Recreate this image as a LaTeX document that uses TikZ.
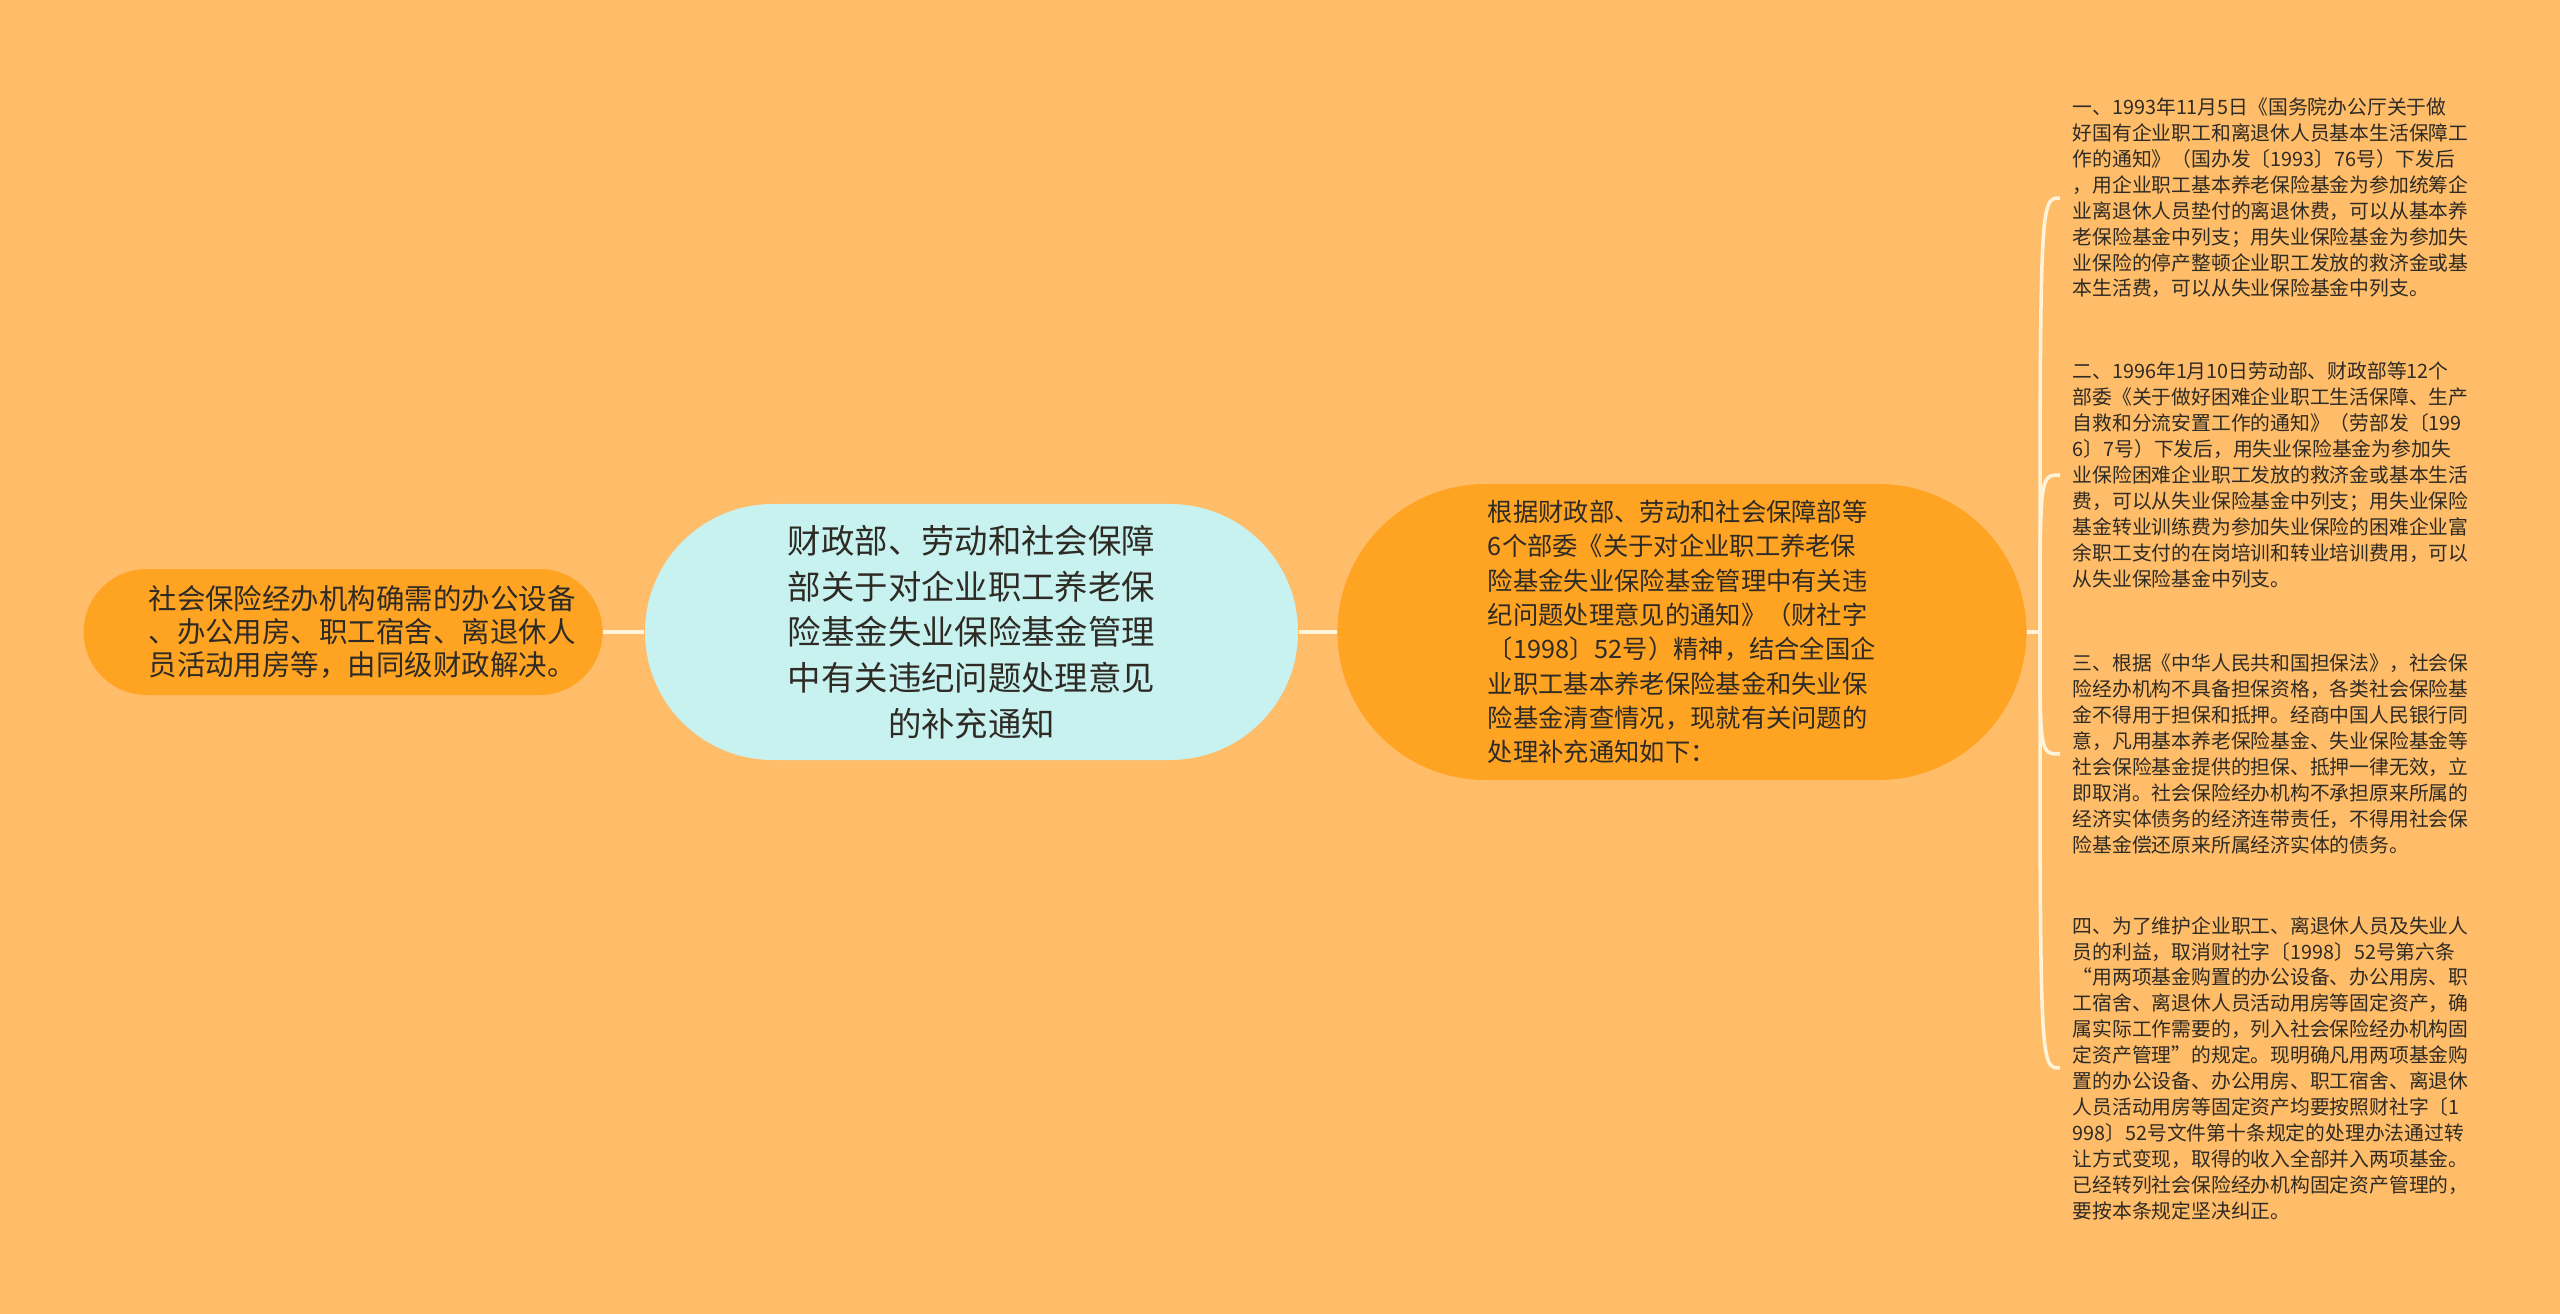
\documentclass[tikz,border=0pt]{standalone}
\usepackage{fontspec}
\setmainfont{Noto Sans CJK SC}
\usetikzlibrary{positioning}

\definecolor{fond}{HTML}{FFBD69}
\definecolor{branche}{HTML}{FFA323}
\definecolor{ciel}{HTML}{C8F2F0}
\definecolor{lien}{HTML}{FFF4DA}
\definecolor{encre}{HTML}{2E2A24}

\begin{document}
\begin{tikzpicture}[
  every node/.style={text=encre, inner sep=0pt},
  racine/.style={fill=ciel, rounded corners=1.28cm, minimum width=6.53cm,
    minimum height=2.56cm, align=center, font=\fontsize{9.5}{13}\selectfont},
  avis/.style={fill=branche, rounded corners=1.48cm, minimum width=6.89cm,
    minimum height=2.96cm, align=left, font=\fontsize{7.2}{9.75}\selectfont},
  feuille/.style={fill=branche, rounded corners=0.63cm, minimum width=5.19cm,
    minimum height=1.26cm},
  detail/.style={anchor=west, inner xsep=0.12cm, align=left,
    font=\fontsize{5.63}{7.37}\selectfont},
  trait/.style={draw=lien, line width=1pt}
]

\fill[fond] (0,0) rectangle (25.6,-13.14);

\node[racine] (titre) at (9.715,-6.32) {财政部、劳动和社会保障\\部关于对企业职工养老保\\险基金失业保险基金管理\\中有关违纪问题处理意见\\的补充通知};
\node[feuille, left=0.41cm of titre,
  label={[align=left, xshift=0.19cm, font=\fontsize{8.1}{9.5}\selectfont]center:社会保险经办机构确需的办公设备\\、办公用房、职工宿舍、离退休人\\员活动用房等，由同级财政解决。}] (locaux) {};
\node[avis, right=0.38cm of titre] (avis) {根据财政部、劳动和社会保障部等\\6个部委《关于对企业职工养老保\\险基金失业保险基金管理中有关违\\纪问题处理意见的通知》（财社字\\〔1998〕52号）精神，结合全国企\\业职工基本养老保险基金和失业保\\险基金清查情况，现就有关问题的\\处理补充通知如下：};

\coordinate (pivot) at (20.40,-6.32);

% les quatre points de la notice
\node[detail] (un) at (20.60,-1.98) {一、1993年11月5日《国务院办公厅关于做\\好国有企业职工和离退休人员基本生活保障工\\作的通知》（国办发〔1993〕76号）下发后\\，用企业职工基本养老保险基金为参加统筹企\\业离退休人员垫付的离退休费，可以从基本养\\老保险基金中列支；用失业保险基金为参加失\\业保险的停产整顿企业职工发放的救济金或基\\本生活费，可以从失业保险基金中列支。};
\node[detail] (deux) at (20.60,-4.75) {二、1996年1月10日劳动部、财政部等12个\\部委《关于做好困难企业职工生活保障、生产\\自救和分流安置工作的通知》（劳部发〔199\\6〕7号）下发后，用失业保险基金为参加失\\业保险困难企业职工发放的救济金或基本生活\\费，可以从失业保险基金中列支；用失业保险\\基金转业训练费为参加失业保险的困难企业富\\余职工支付的在岗培训和转业培训费用，可以\\从失业保险基金中列支。};
\node[detail] (trois) at (20.60,-7.54) {三、根据《中华人民共和国担保法》，社会保\\险经办机构不具备担保资格，各类社会保险基\\金不得用于担保和抵押。经商中国人民银行同\\意，凡用基本养老保险基金、失业保险基金等\\社会保险基金提供的担保、抵押一律无效，立\\即取消。社会保险经办机构不承担原来所属的\\经济实体债务的经济连带责任，不得用社会保\\险基金偿还原来所属经济实体的债务。};
\node[detail] (quatre) at (20.60,-10.68) {四、为了维护企业职工、离退休人员及失业人\\员的利益，取消财社字〔1998〕52号第六条\\“用两项基金购置的办公设备、办公用房、职\\工宿舍、离退休人员活动用房等固定资产，确\\属实际工作需要的，列入社会保险经办机构固\\定资产管理”的规定。现明确凡用两项基金购\\置的办公设备、办公用房、职工宿舍、离退休\\人员活动用房等固定资产均要按照财社字〔1\\998〕52号文件第十条规定的处理办法通过转\\让方式变现，取得的收入全部并入两项基金。\\已经转列社会保险经办机构固定资产管理的，\\要按本条规定坚决纠正。};

\draw[trait] (locaux) -- (titre);
\draw[trait] (titre) -- (avis);
\draw[trait] (avis) -- (pivot);
\foreach \p in {un,deux,trois,quatre}
  \draw[trait] (pivot) .. controls (pivot |- \p.west) .. (\p.west);
\end{tikzpicture}
\end{document}
